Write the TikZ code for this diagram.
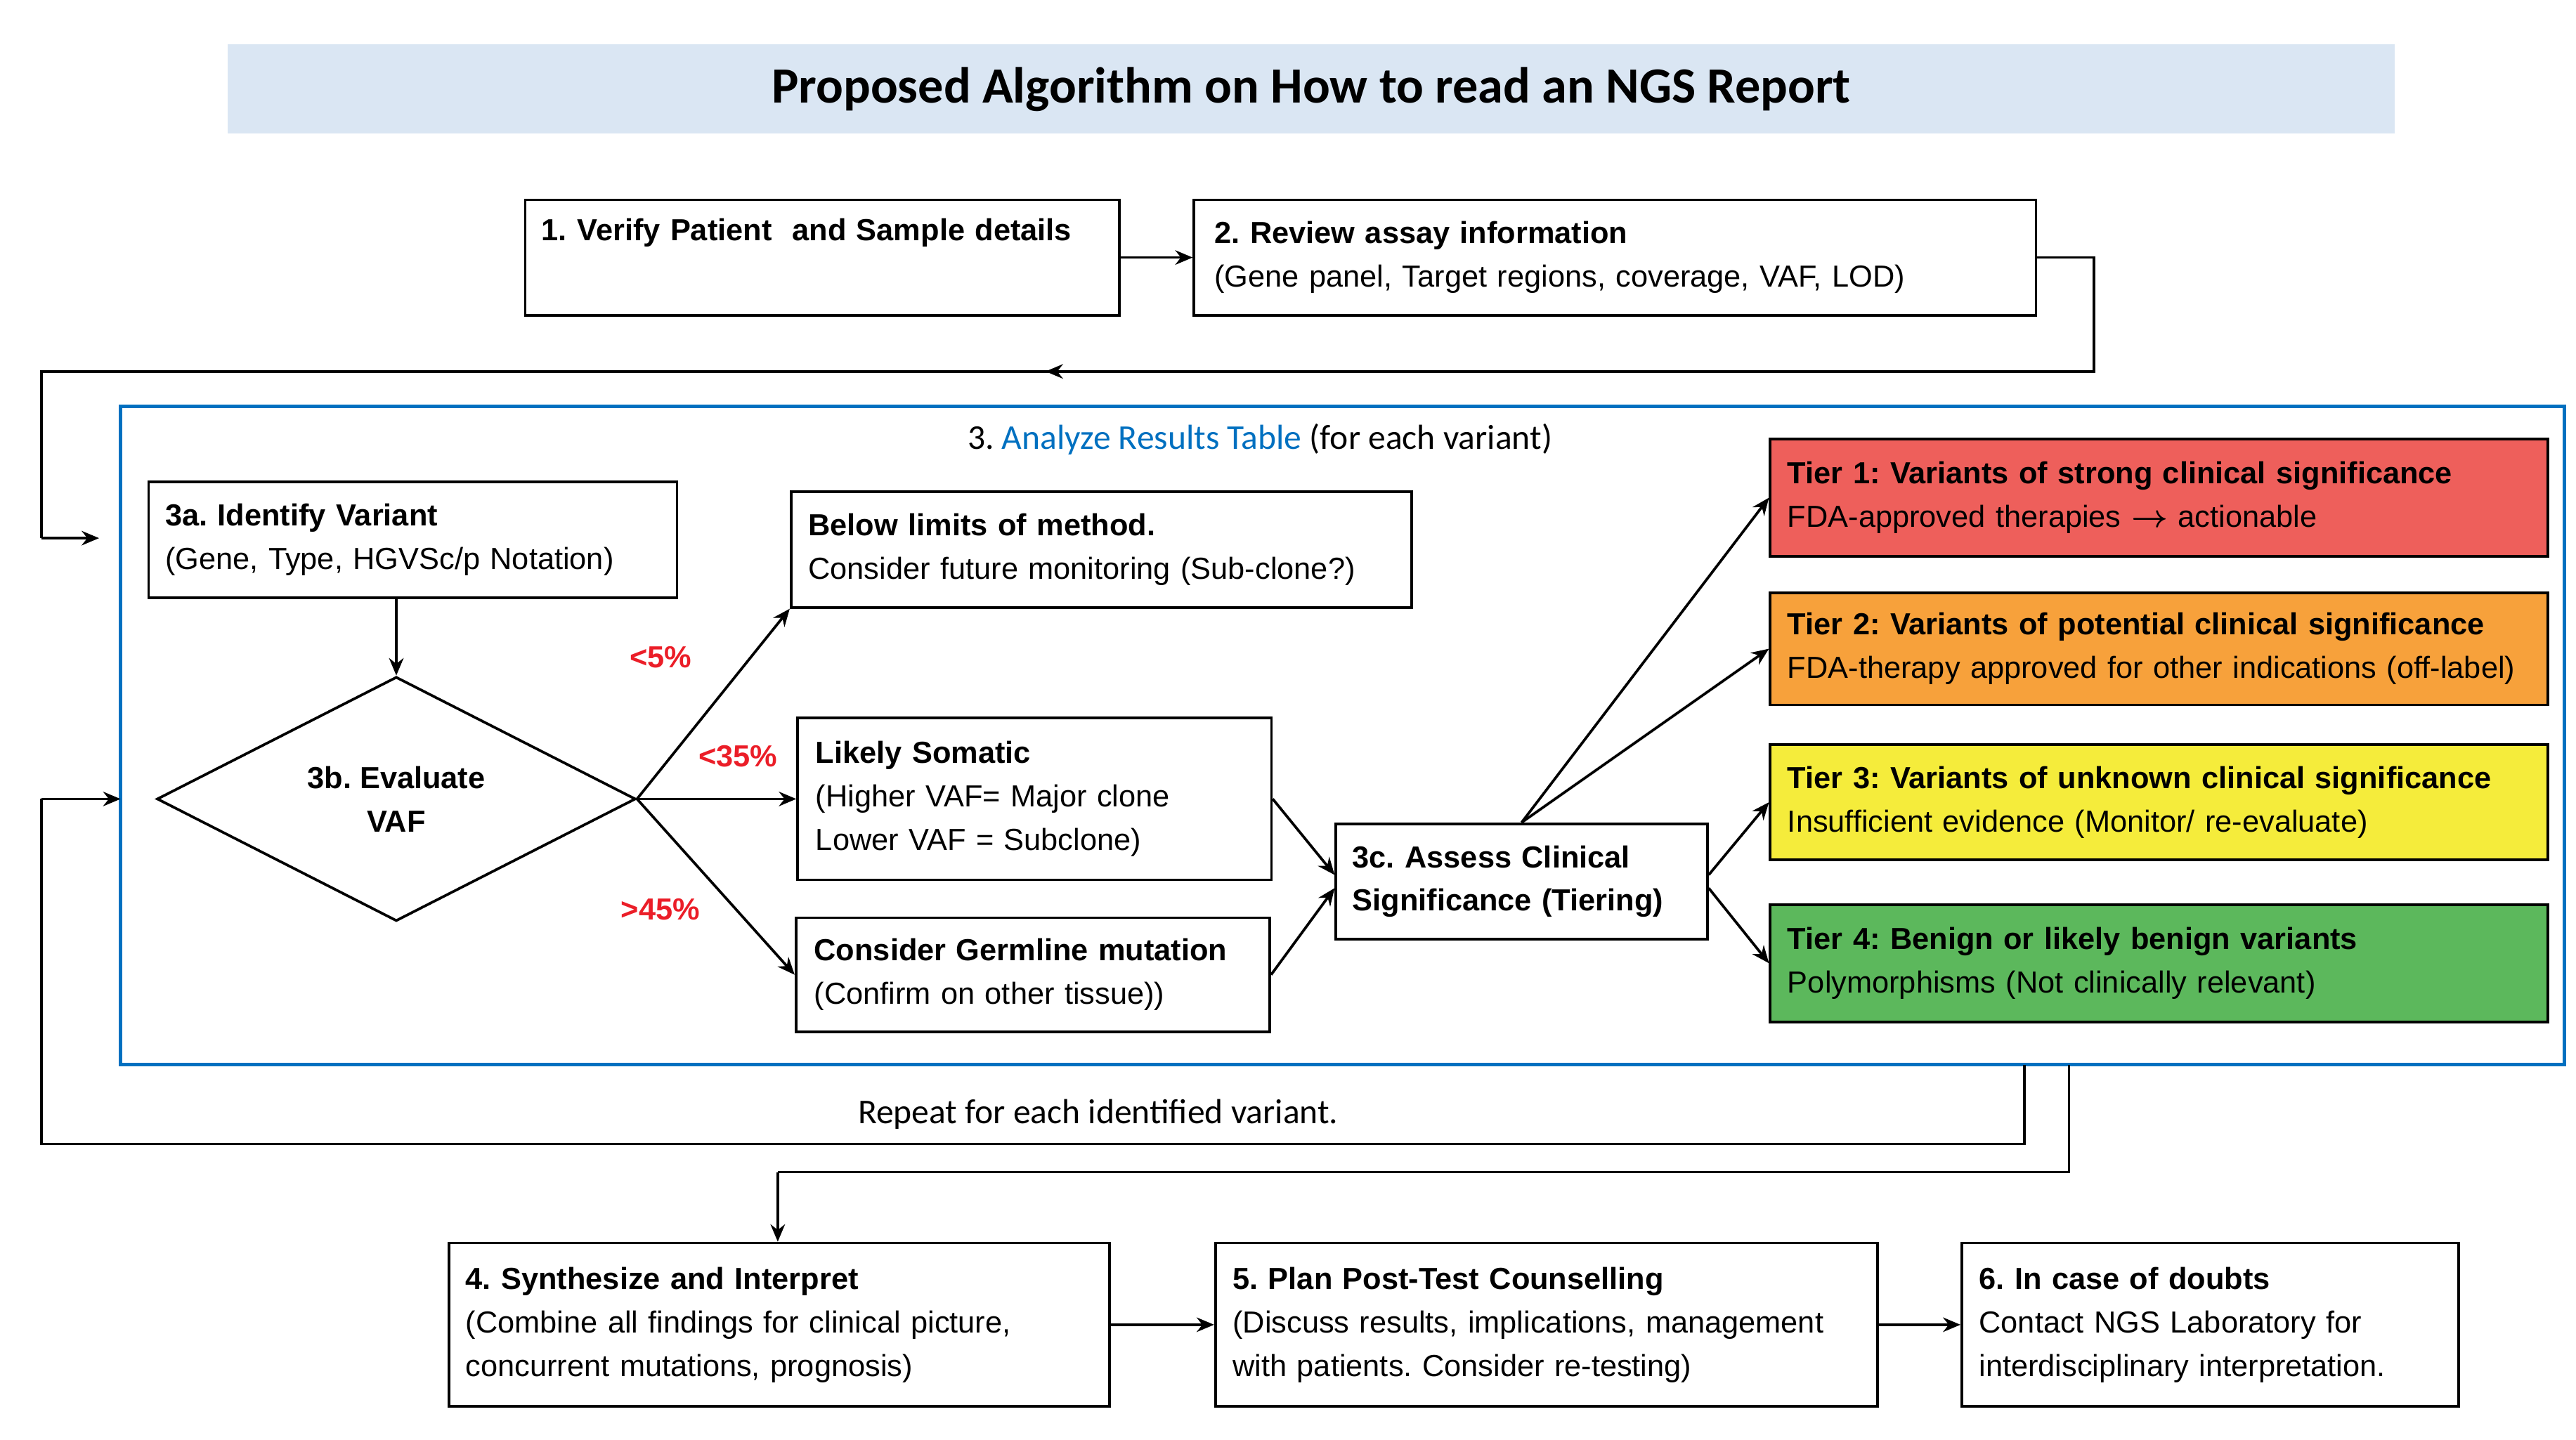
\documentclass[tikz,border=0pt]{standalone}
\usepackage{fontspec}
\setmainfont{Liberation Sans}
\newfontfamily\carl{Carlito}
\usetikzlibrary{shapes.geometric,arrows.meta,calc,decorations.markings}
\definecolor{titlebg}{RGB}{218,230,243}
\definecolor{frameblue}{RGB}{0,112,192}
\definecolor{tierred}{RGB}{238,95,91}
\definecolor{tierorange}{RGB}{247,161,59}
\definecolor{tieryellow}{RGB}{245,236,59}
\definecolor{tiergreen}{RGB}{92,184,92}
\definecolor{labred}{RGB}{235,30,40}
\frenchspacing
\begin{document}
\begin{tikzpicture}[x=0.02cm,y=-0.02cm,
  box/.style={draw,line width=0.9pt,align=left,inner sep=0pt,
    font=\fontsize{10.5}{15}\selectfont},
  arr/.style={-{Stealth[length=6pt,width=5pt]},line width=0.9pt},
  pct/.style={text=labred,font=\bfseries\fontsize{10.5}{12}\selectfont},
  midarr/.style={line width=0.9pt,postaction={decorate},decoration={markings,
    mark=at position #1 with {\arrow{Stealth[length=6pt,width=5pt]}}}}]
\useasboundingbox (0,0) rectangle (1560,872);
% title
\fill[titlebg] (138,27) rectangle (1450,81);
\node (title) at (794,54) {\carl\bfseries\fontsize{17.5}{20}\selectfont Proposed Algorithm on How to read an NGS Report};
% step 1 and 2
\node[box,minimum width=7.2cm,minimum height=1.4cm,text width=6.8cm] (s1) at (498,156)
  {\textbf{1. Verify Patient\ \ and Sample details}\\ \strut};
\node[box,minimum width=10.2cm,minimum height=1.4cm,text width=9.7cm] (s2) at (978,156)
  {\textbf{2. Review assay information}\\(Gene panel, Target regions, coverage, VAF, LOD)};
\draw[arr] (s1.east) -- (s2.east -| s2.west);
% frame
\draw[frameblue,line width=1.2pt] (73,246) rectangle (1553,645);
\node (head) at (763,266) {\carl\fontsize{12}{14}\selectfont 3. \textcolor{frameblue}{Analyze Results Table} (for each variant)};
\coordinate (fin) at (73,326);
\coordinate (rin) at (73,484);
\draw[midarr=0.51] (s2.east) -- (1268,156) -- (1268,225) -- (25,225) -- (25,326);
\draw[arr] (25,326) -- (60,326);
% 3a, 3b
\node[box,minimum width=6.4cm,minimum height=1.4cm,text width=6cm] (a) at (250,327)
  {\textbf{3a. Identify Variant}\\(Gene, Type, HGVSc/p Notation)};
\node[draw,line width=0.9pt,diamond,minimum width=5.8cm,minimum height=2.96cm,inner sep=0pt,align=center,
  font=\bfseries\fontsize{10.5}{15}\selectfont] (b) at (240,484) {3b. Evaluate\\VAF};
\draw[arr] (a.south -| b.north) -- (b.north);
% outcomes
\node[box,minimum width=7.52cm,minimum height=1.4cm,text width=7.1cm] (low) at (667,333)
  {\textbf{Below limits of method.}\\Consider future monitoring (Sub-clone?)};
\node[box,minimum width=5.74cm,minimum height=1.96cm,text width=5.3cm] (som) at (626.5,484)
  {\textbf{Likely Somatic}\\(Higher VAF= Major clone\\Lower VAF = Subclone)};
\node[box,minimum width=5.74cm,minimum height=1.38cm,text width=5.3cm] (ger) at (625.5,590.5)
  {\textbf{Consider Germline mutation}\\(Confirm on other tissue))};
\draw[arr] (b.east) -- (low.south west);
\draw[arr] (b.east) -- (som.west);
\draw[arr] (b.east) -- (ger.west);
\node[pct] (p1) at (400,398) {<5\%};
\node[pct] (p2) at (447,458) {<35\%};
\node[pct] (p3) at (400,551) {>45\%};
% 3c
\node[box,minimum width=4.5cm,minimum height=1.4cm,text width=4.1cm,font=\bfseries\fontsize{10.5}{15}\selectfont] (c) at (921.5,534)
  {3c. Assess Clinical\\Significance (Tiering)};
\draw[arr] (som.east) -- ([yshift=0.08cm]c.west);
\draw[arr] (ger.east) -- ([yshift=-0.08cm]c.west);
% tiers
\node[box,fill=tierred,minimum width=9.42cm,minimum height=1.42cm,text width=9cm] (t1) at (1307.5,301.5)
  {\textbf{Tier 1: Variants of strong clinical significance}\\FDA-approved therapies {\boldmath$\rightarrow$} actionable};
\node[box,fill=tierorange,minimum width=9.42cm,minimum height=1.36cm,text width=9cm] (t2) at (1307.5,393)
  {\textbf{Tier 2: Variants of potential clinical significance}\\FDA-therapy approved for other indications (off-label)};
\node[box,fill=tieryellow,minimum width=9.42cm,minimum height=1.4cm,text width=9cm] (t3) at (1307.5,486)
  {\textbf{Tier 3: Variants of unknown clinical significance}\\Insufficient evidence (Monitor/ re-evaluate)};
\node[box,fill=tiergreen,minimum width=9.42cm,minimum height=1.42cm,text width=9cm] (t4) at (1307.5,583.5)
  {\textbf{Tier 4: Benign or likely benign variants}\\Polymorphisms (Not clinically relevant)};
\draw[arr] (c.north) -- (t1.west);
\draw[arr] (c.north) -- (t2.west);
\draw[arr] ([yshift=0.08cm]c.east) -- (t3.west);
\draw[arr] ([yshift=-0.08cm]c.east) -- (t4.west);
% loops
\draw[line width=0.9pt] (1226,645) -- (1226,693) -- (25,693) -- (25,484);
\draw[arr] (25,484) -- (rin);
\node (rep) at (665,675) {\carl\fontsize{12}{14}\selectfont Repeat for each identified variant.};
% bottom
\node[box,minimum width=8cm,minimum height=1.98cm,text width=7.6cm] (s4) at (472,802.5)
  {\textbf{4. Synthesize and Interpret}\\(Combine all findings for clinical picture,\\concurrent mutations, prognosis)};
\node[box,minimum width=8.02cm,minimum height=1.98cm,text width=7.6cm] (s5) at (936.5,802.5)
  {\textbf{5. Plan Post-Test Counselling}\\(Discuss results, implications, management\\with patients. Consider re-testing)};
\node[box,minimum width=6.02cm,minimum height=1.98cm,text width=5.6cm] (s6) at (1338.5,802.5)
  {\textbf{6. In case of doubts}\\Contact NGS Laboratory for\\interdisciplinary interpretation.};
\draw[line width=0.9pt] (1253,645) -- (1253,710) -- (471,710);
\draw[arr] (471,710) -- (s4.north -| 471,0);
\draw[arr] (s4.east) -- (s5.west);
\draw[arr] (s5.east) -- (s6.west);
\end{tikzpicture}
\end{document}
